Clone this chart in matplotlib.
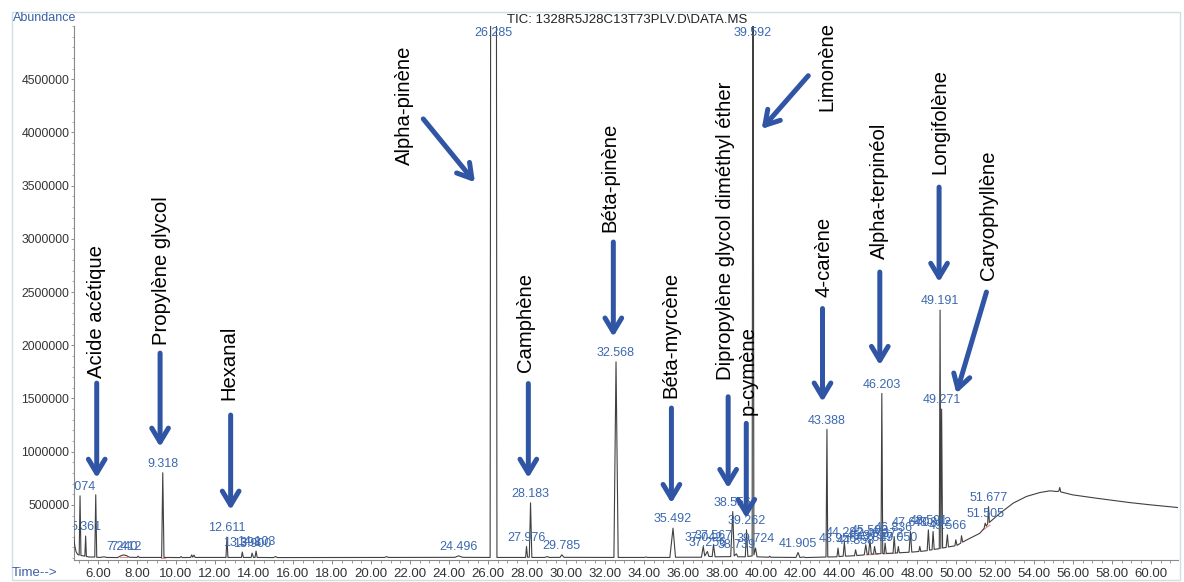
import matplotlib

matplotlib.use("Agg")
import matplotlib.pyplot as plt
from matplotlib.patches import Rectangle
from matplotlib.ticker import FixedLocator, MultipleLocator, FuncFormatter

plt.rcParams["font.family"] = ["Liberation Sans", "DejaVu Sans"]

TRACE = "#404040"
PEAK_BLUE = "#3b68b0"
ARROW_BLUE = "#2f55a4"
AXIS = "#8a8a8a"

# TIC trace: (retention time [min], abundance)
tic_points = [
    (4.74, 210e3), (4.80, 120e3), (4.87, 60e3), (4.95, 35e3), (5.03, 28e3),
    (5.074, 585e3), (5.12, 25e3), (5.32, 18e3), (5.361, 207e3), (5.40, 15e3),
    (5.55, 10e3), (5.83, 10e3), (5.88, 595e3), (5.93, 8e3), (6.10, 6e3),
    (6.30, 12e3), (6.45, 6e3), (7.00, 5e3), (7.15, 20e3), (7.30, 30e3),
    (7.45, 24e3), (7.60, 8e3), (8.00, 6e3), (8.05, 18e3), (8.12, 6e3),
    (9.26, 6e3), (9.318, 802e3), (9.38, 6e3), (10.20, 5e3), (10.26, 14e3),
    (10.32, 5e3), (10.75, 6e3), (10.80, 30e3), (10.86, 8e3), (10.92, 28e3),
    (10.98, 6e3), (12.56, 6e3), (12.611, 198e3), (12.66, 6e3), (13.35, 6e3),
    (13.398, 57e3), (13.45, 6e3), (13.85, 6e3), (13.90, 47e3), (13.97, 6e3),
    (14.05, 6e3), (14.103, 66e3), (14.16, 6e3), (15.00, 5e3), (15.10, 14e3),
    (15.20, 5e3), (20.70, 6e3), (20.80, 14e3), (20.90, 6e3), (23.00, 6e3),
    (24.30, 7e3), (24.496, 21e3), (24.70, 7e3), (26.11, 6e3), (26.14, 6.0e6),
    (26.43, 6.0e6), (26.46, 6e3), (27.93, 6e3), (27.976, 109e3), (28.03, 8e3),
    (28.12, 8e3), (28.183, 519e3), (28.25, 6e3), (28.90, 6e3), (29.05, 14e3),
    (29.15, 6e3), (29.70, 7e3), (29.785, 31e3), (29.90, 7e3), (32.46, 6e3),
    (32.568, 1844e3), (32.68, 6e3), (34.00, 6e3), (34.10, 10e3), (34.20, 6e3),
    (35.33, 6e3), (35.492, 281e3), (35.62, 8e3), (36.95, 8e3), (37.042, 109e3),
    (37.12, 20e3), (37.256, 62e3), (37.33, 16e3), (37.50, 14e3), (37.567, 125e3),
    (37.65, 12e3), (38.45, 14e3), (38.556, 437e3), (38.63, 20e3), (38.739, 40e3),
    (38.82, 12e3), (39.20, 12e3), (39.262, 265e3), (39.33, 15e3), (39.55, 20e3),
    (39.592, 7.0e6), (39.64, 30e3), (39.724, 94e3), (39.80, 12e3), (40.40, 8e3),
    (40.45, 18e3), (40.50, 8e3), (41.80, 6e3), (41.905, 53e3), (42.00, 6e3),
    (42.20, 10e3), (42.30, 5e3), (43.34, 10e3), (43.388, 1210e3), (43.43, 10e3),
    (43.90, 12e3), (43.956, 94e3), (44.01, 14e3), (44.22, 18e3), (44.282, 150e3),
    (44.34, 18e3), (44.80, 22e3), (44.858, 78e3), (44.92, 24e3), (45.30, 30e3),
    (45.379, 125e3), (45.45, 35e3), (45.52, 35e3), (45.593, 172e3), (45.66, 38e3),
    (45.78, 38e3), (45.829, 109e3), (45.90, 40e3), (46.16, 42e3), (46.203, 1547e3),
    (46.25, 42e3), (46.32, 42e3), (46.372, 141e3), (46.43, 44e3), (46.78, 46e3),
    (46.836, 203e3), (46.90, 48e3), (47.00, 48e3), (47.05, 109e3), (47.10, 50e3),
    (47.60, 55e3), (47.67, 250e3), (47.74, 56e3), (48.10, 62e3), (48.15, 110e3),
    (48.20, 63e3), (48.53, 70e3), (48.591, 265e3), (48.65, 75e3), (48.78, 78e3),
    (48.832, 250e3), (48.89, 82e3), (49.15, 88e3), (49.191, 2330e3), (49.23, 90e3),
    (49.271, 1400e3), (49.32, 95e3), (49.50, 100e3), (49.566, 219e3), (49.62, 105e3),
    (49.95, 115e3), (50.00, 172e3), (50.06, 120e3), (50.25, 140e3), (50.29, 210e3),
    (50.35, 150e3), (50.55, 170e3), (51.23, 233e3), (51.45, 280e3), (51.505, 328e3),
    (51.56, 300e3), (51.63, 320e3), (51.677, 484e3), (51.72, 335e3), (52.26, 421e3),
    (52.94, 516e3), (53.62, 579e3), (54.31, 616e3), (54.82, 632e3), (55.16, 626e3),
    (55.28, 628e3), (55.33, 663e3), (55.38, 622e3), (56.00, 594e3), (57.20, 563e3),
    (58.90, 522e3), (60.00, 500e3), (61.40, 475e3),
]

# integrated peaks: retention time label and apex abundance
peak_rt = [5.074, 5.361, 7.240, 7.412, 9.318, 12.611, 13.398, 13.900, 14.103,
           24.496, 26.285, 27.976, 28.183, 29.785, 32.568, 35.492, 37.042,
           37.256, 37.567, 38.556, 38.739, 39.262, 39.592, 39.724, 41.905,
           43.388, 43.956, 44.282, 44.858, 45.379, 45.593, 45.829, 46.203,
           46.372, 46.836, 47.050, 47.670, 48.591, 48.832, 49.191, 49.271,
           49.566, 51.505, 51.677]
peak_height = [585e3, 207e3, 25e3, 25e3, 802e3, 198e3, 57e3, 47e3, 66e3,
               21e3, 6.0e6, 109e3, 519e3, 31e3, 1844e3, 281e3, 109e3,
               62e3, 125e3, 437e3, 40e3, 265e3, 7.0e6, 94e3, 53e3,
               1210e3, 94e3, 150e3, 78e3, 125e3, 172e3, 109e3, 1547e3,
               141e3, 203e3, 109e3, 250e3, 265e3, 250e3, 2330e3, 1400e3,
               219e3, 328e3, 484e3]

# integration baseline ticks (red) seen under a few peaks
red_marks = [((7.10, 7.50), (8e3, 8e3)), ((9.22, 9.42), (5e3, 5e3)),
             ((45.40, 46.00), (30e3, 36e3)), ((46.30, 46.90), (40e3, 45e3)),
             ((51.40, 51.75), (265e3, 310e3))]

# compound annotations: name, text (x, bottom y), arrow start, arrow tip
compounds = [
    ("Acide acétique", (5.90, 1.69e6), (5.93, 1.644e6), (5.93, 0.753e6)),
    ("Propylène glycol", (9.26, 2.00e6), (9.18, 1.926e6), (9.18, 1.045e6)),
    ("Hexanal", (12.72, 1.485e6), (12.80, 1.344e6), (12.80, 0.453e6)),
    ("Alpha-pinène", (21.74, 3.69e6), (22.68, 4.127e6), (25.33, 3.532e6)),
    ("Camphène", (27.90, 1.75e6), (28.07, 1.64e6), (28.07, 0.753e6)),
    ("Béta-pinène", (32.26, 3.06e6), (32.43, 2.97e6), (32.43, 2.08e6)),
    ("Béta-myrcène", (35.36, 1.50e6), (35.41, 1.41e6), (35.41, 0.516e6)),
    ("Dipropylène glycol diméthyl éther", (38.18, 1.672e6), (38.32, 1.516e6), (38.32, 0.657e6)),
    ("p-cymène", (39.35, 1.345e6), (39.25, 1.266e6), (39.25, 0.375e6)),
    ("Limonène", (43.36, 4.20e6), (42.43, 4.533e6), (40.04, 4.033e6)),
    ("4-carène", (43.23, 2.454e6), (43.16, 2.345e6), (43.16, 1.469e6)),
    ("Alpha-terpinéol", (46.10, 2.814e6), (46.10, 2.688e6), (46.10, 1.813e6)),
    ("Longifolène", (49.18, 3.611e6), (49.14, 3.486e6), (49.14, 2.594e6)),
    ("Caryophyllène", (51.66, 2.61e6), (51.57, 2.50e6), (50.03, 1.548e6)),
]

fig = plt.figure(figsize=(11.84, 5.82), dpi=100)
ax = fig.add_axes([0.0621, 0.0378, 0.9329, 0.9175])
ax.set_xlim(4.74, 61.4)
ax.set_ylim(-18000, 5.0e6)

ts = [p[0] for p in tic_points]
vals = [p[1] for p in tic_points]
ax.plot(ts, vals, color=TRACE, linewidth=0.8, zorder=3)

for (t0, t1), (a0, a1) in red_marks:
    ax.plot([t0, t1], [a0, a1], color="#e06060", linewidth=0.8, alpha=0.7, zorder=2)

for rt, h in zip(peak_rt, peak_height):
    ax.annotate(f"{rt:.3f}", xy=(rt, min(h, 4.85e6)), xytext=(0, 2),
                textcoords="offset points", ha="center", va="bottom",
                color=PEAK_BLUE, fontsize=9, annotation_clip=False,
                clip_on=True, zorder=4)

for name, (tx, ty), start, tip in compounds:
    ax.text(tx, ty, name, rotation=90, ha="center", va="bottom",
            fontsize=14.6, color="black", zorder=5)
    ax.annotate("", xy=tip, xytext=start,
                arrowprops=dict(arrowstyle="->,head_length=1.0,head_width=0.6",
                                mutation_scale=10, lw=3.6, color=ARROW_BLUE,
                                shrinkA=0, shrinkB=0),
                zorder=6)

# axes styling like the ChemStation printout
for side in ("top", "right"):
    ax.spines[side].set_visible(False)
for side in ("left", "bottom"):
    ax.spines[side].set_color(AXIS)
    ax.spines[side].set_linewidth(0.8)

ax.xaxis.set_major_locator(MultipleLocator(2))
ax.xaxis.set_minor_locator(MultipleLocator(0.5))
ax.xaxis.set_major_formatter(FuncFormatter(lambda v, _: f"{v:.2f}"))
ax.yaxis.set_major_locator(FixedLocator([500000 * k for k in range(1, 10)]))
ax.yaxis.set_minor_locator(MultipleLocator(100000))
ax.yaxis.set_major_formatter(FuncFormatter(lambda v, _: f"{int(v)}"))
ax.tick_params(axis="x", which="major", length=3, width=0.7, color=AXIS,
               labelsize=9.5, labelcolor="#333333", pad=2.5)
ax.tick_params(axis="x", which="minor", length=2, width=0.6, color=AXIS)
ax.tick_params(axis="y", which="major", length=2.5, width=0.7, color=AXIS,
               labelsize=8.8, labelcolor="#333333", pad=0.5)
ax.tick_params(axis="y", which="minor", length=1.5, width=0.5, color=AXIS)

fig.text(627 / 1184, 1 - 20 / 582, "TIC: 1328R5J28C13T73PLV.D\\DATA.MS",
         ha="center", va="center", fontsize=9.5, color="#222222")
fig.text(13 / 1184, 1 - 18 / 582, "Abundance", ha="left", va="center",
         fontsize=9, color="#3b5ea6")
fig.text(12 / 1184, 1 - 573 / 582, "Time-->", ha="left", va="center",
         fontsize=9.5, color="#3b5ea6")
fig.patches.append(Rectangle((12 / 1184, 2 / 582), 1168 / 1184, 568 / 582,
                             transform=fig.transFigure, fill=False,
                             edgecolor="#cfe0e3", linewidth=1.0))

fig.savefig("out.png", dpi=100)
